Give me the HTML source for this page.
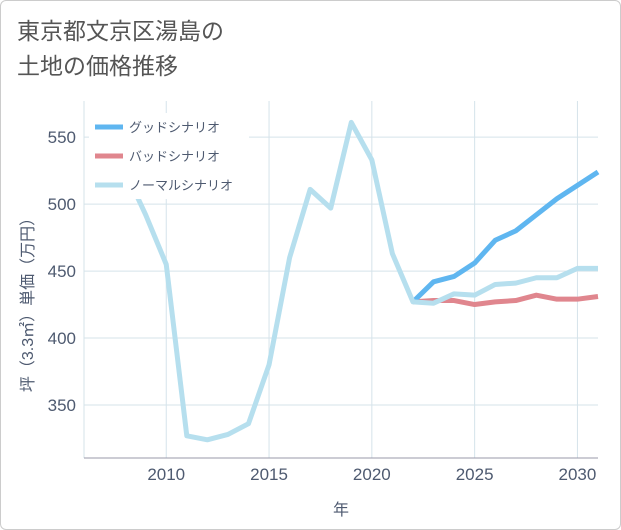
<!DOCTYPE html>
<html><head><meta charset="utf-8"><style>
body{margin:0;background:#fff;}
#wrap{position:relative;width:619px;height:528px;border:1px solid #ccc;border-radius:6px;background:#fff;overflow:hidden;font-family:"Liberation Sans","Noto Sans CJK JP",sans-serif;}
#title{position:absolute;left:16px;top:13px;font-size:23px;line-height:35px;color:#555;}
</style></head><body>
<div id="wrap">
<div id="title">東京都文京区湯島の<br>土地の価格推移</div>
<svg id="chart" width="619" height="528" style="position:absolute;left:0;top:0"></svg>
</div>
<script>
const years=[2008,2009,2010,2011,2012,2013,2014,2015,2016,2017,2018,2019,2020,2021,2022,2023,2024,2025,2026,2027,2028,2029,2030,2031];
const normal=[525,492,455,327,324,328,336,380,460,511,497,561,533,463,427,426,433,432,440,441,445,445,452,452];
const goodYears=[2022,2023,2024,2025,2026,2027,2028,2029,2030,2031];
const good=[427,442,446,456,473,480,492,504,514,524];
const bad=[427,428,428,425,427,428,432,429,429,431];
const xTicks=[2010,2015,2020,2025,2030];
const yTicks=[350,400,450,500,550];
const NS="http://www.w3.org/2000/svg";
const svg=document.getElementById('chart');
const L=83,R=597,T=100,B=457;
const x=v=>L+(v-2006)*(R-L)/25;
const y=v=>B-(v-310.4)*(B-T)/(577-310.4);
function mk(t,a){const e=document.createElementNS(NS,t);for(const k in a)e.setAttribute(k,a[k]);svg.appendChild(e);return e;}
xTicks.forEach(t=>{
 const g=mk('line',{x1:x(t),x2:x(t),y1:T,y2:B,stroke:'#d5e3ea','stroke-width':1});
 
 
 const l=mk('text',{x:x(t),y:479,'text-anchor':'middle','font-size':17,fill:'#4e5a70'});l.textContent=t;
 
 
});
yTicks.forEach(t=>{
 const g=mk('line',{x1:L,x2:R,y1:y(t),y2:y(t),stroke:'#d5e3ea','stroke-width':1});
 
 
 const l=mk('text',{x:L-8,y:y(t)+6,'text-anchor':'end','font-size':17,fill:'#4e5a70'});l.textContent=t;
 
 
});
const ly=mk('line',{x1:L,x2:L,y1:T,y2:B,stroke:'#d5e3ea','stroke-width':1});


const ax=mk('line',{x1:L,x2:R,y1:B,y2:B,stroke:'#99a','stroke-width':1});


const xt=mk('text',{x:340,y:514,'text-anchor':'middle','font-size':16,fill:'#4e5a70'});xt.textContent='年';


const yt=mk('text',{x:0,y:0,'text-anchor':'middle','font-size':16,fill:'#4e5a70',transform:'translate(32,300) rotate(-90)'});yt.textContent='坪（3.3㎡）単価（万円）';


function line(xs,vs,color,name){
 const p=mk('polyline',{points:xs.map((a,i)=>x(a)+','+y(vs[i])).join(' '),fill:'none',stroke:color,'stroke-width':5,'stroke-linejoin':'round'});
 
 
}
line(goodYears,bad,'#e0868e','bad-scenario-line');
line(goodYears,good,'#5fb6f0','good-scenario-line');
line(years,normal,'#b6dfee','normal-scenario-line');
const leg=[['グッドシナリオ','#5fb6f0'],['バッドシナリオ','#e0868e'],['ノーマルシナリオ','#b6dfee']];
const bg=mk('rect',{x:88,y:112,width:160,height:86,fill:'#fff'});


leg.forEach((d,i)=>{
 const yy=126+i*29;
 const s=mk('line',{x1:94,x2:122,y1:yy,y2:yy,stroke:d[1],'stroke-width':5});
 
 
 const t=mk('text',{x:128,y:yy+5,'font-size':13,fill:'#4e5a70'});t.textContent=d[0];
 
 
});
</script>
</body></html>
